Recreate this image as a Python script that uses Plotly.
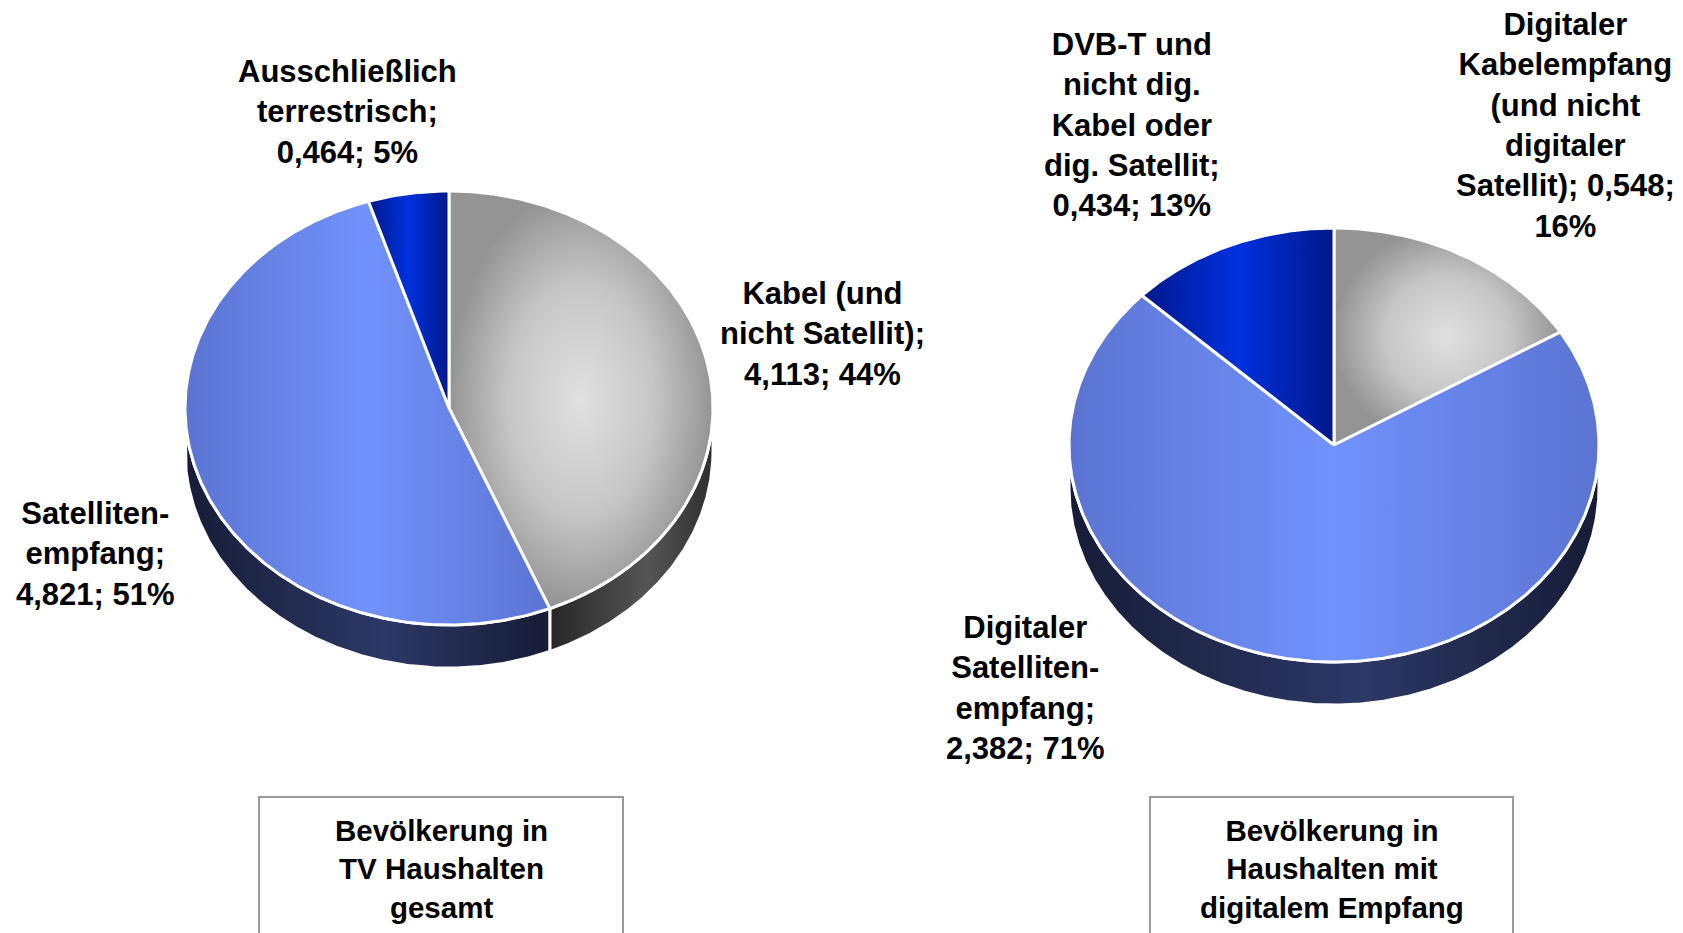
import numpy as np
import plotly.graph_objects as go

# ---------------- data ----------------
left_names = ["Kabel (und<br>nicht Satellit)", "Satelliten-<br>empfang", "Ausschließlich<br>terrestrisch"]
left_values = [4.113, 4.821, 0.464]
left_title = "Bevölkerung in<br>TV Haushalten<br>gesamt"

right_names = ["Digitaler<br>Kabelempfang<br>(und nicht<br>digitaler<br>Satellit)", "Digitaler<br>Satelliten-<br>empfang", "DVB-T und<br>nicht dig.<br>Kabel oder<br>dig. Satellit"]
right_values = [0.548, 2.382, 0.434]
right_title = "Bevölkerung in<br>Haushalten mit<br>digitalem Empfang"

# ---------------- styles ----------------
W, H = 1683, 933
TOP_STYLES = [
    dict(type="radial", colorscale=[[0, "#e0e0e0"], [0.55, "#c6c6c6"], [1, "#949494"]]),
    dict(type="horizontal", colorscale=[[0, "#5b74d2"], [0.5, "#7192fc"], [1, "#5b74d2"]]),
    dict(type="horizontal", colorscale=[[0, "#00188a"], [0.5, "#0031de"], [1, "#00188a"]]),
]
SIDE_STYLES = [
    dict(type="horizontal", colorscale=[[0, "#262626"], [0.6, "#555555"], [1, "#2e2e2e"]]),
    dict(type="horizontal", colorscale=[[0, "#171d38"], [0.55, "#2c3866"], [1, "#161c36"]]),
    dict(type="horizontal", colorscale=[[0, "#171d38"], [0.55, "#2c3866"], [1, "#161c36"]]),
]
FONT = dict(family="Liberation Sans, Arial", size=31, color="#000000", weight="bold")
TITLE_FONT = dict(family="Liberation Sans, Arial", size=29.5, color="#000000", weight="bold")


def fmt(v):
    return f"{v:.3f}".replace(".", ",")


def ell(cx, cy, rx, ry, th, dy=0.0):
    t = np.radians(th)
    return cx + rx * np.sin(t), cy - ry * np.cos(t) + dy


fig = go.Figure()


def add_pie(values, cx, cy, rx, ry, depth):
    total = sum(values)
    angles = np.concatenate([[0], np.cumsum(values) / total * 360.0])
    # side walls (front half only)
    for i in range(len(values)):
        a, b = max(angles[i], 90.0), min(angles[i + 1], 270.0)
        if b <= a:
            continue
        th = np.linspace(a, b, max(int(b - a) * 2, 4))
        xt, yt = ell(cx, cy, rx, ry, th)
        xb, yb = ell(cx, cy, rx, ry, th[::-1], depth)
        xs = np.concatenate([xt, xb, xt[:1]])
        ys = np.concatenate([yt, yb, yt[:1]])
        fig.add_trace(go.Scatter(x=xs, y=ys, mode="lines", fill="toself",
                                 fillgradient=SIDE_STYLES[i],
                                 line=dict(color="white", width=3),
                                 hoverinfo="skip", showlegend=False))
    # top slices
    for i in range(len(values)):
        a, b = angles[i], angles[i + 1]
        th = np.linspace(a, b, max(int(b - a) * 2, 4))
        xe, ye = ell(cx, cy, rx, ry, th)
        xs = np.concatenate([[cx], xe, [cx]])
        ys = np.concatenate([[cy], ye, [cy]])
        fig.add_trace(go.Scatter(x=xs, y=ys, mode="lines", fill="toself",
                                 fillgradient=TOP_STYLES[i],
                                 line=dict(color="white", width=3),
                                 hoverinfo="skip", showlegend=False))
    return total


# ---------------- pies ----------------
lt = add_pie(left_values, 449, 408, 264, 217, 43)
rt = add_pie(right_values, 1334, 445, 265, 217, 43)

left_pos = [(822, 334), (95, 554), (347, 112)]
right_pos = [(1565, 125), (1025, 688), (1132, 125)]
right_seps = ["; ", ";<br>", ";<br>"]

for name, v, (x, y) in zip(left_names, left_values, left_pos):
    txt = f"{name};<br>{fmt(v)}; {round(v / lt * 100)}%"
    fig.add_annotation(x=x, y=y, text=txt, showarrow=False, font=FONT,
                       align="center", xanchor="center", yanchor="middle")

for name, v, sep, (x, y) in zip(right_names, right_values, right_seps, right_pos):
    if sep == "; ":
        txt = f"{name}; {fmt(v)};<br>{round(v / rt * 100)}%"
    else:
        txt = f"{name};<br>{fmt(v)}; {round(v / rt * 100)}%"
    fig.add_annotation(x=x, y=y, text=txt, showarrow=False, font=FONT,
                       align="center", xanchor="center", yanchor="middle")

# ---------------- title boxes ----------------
for (x0, x1), title in [((259, 623), left_title), ((1150, 1513), right_title)]:
    fig.add_shape(type="rect", x0=x0, x1=x1, y0=797, y1=960,
                  line=dict(color="#9a9a9a", width=2), fillcolor="white", layer="below")
    fig.add_annotation(x=(x0 + x1) / 2, y=869, text=title, showarrow=False,
                       font=TITLE_FONT, align="center", xanchor="center", yanchor="middle")

fig.update_layout(
    width=W, height=H, margin=dict(l=0, r=0, t=0, b=0),
    paper_bgcolor="white", plot_bgcolor="white",
    xaxis=dict(range=[0, W], visible=False, fixedrange=True),
    yaxis=dict(range=[H, 0], visible=False, fixedrange=True),
    showlegend=False,
)

fig.write_html("out.html", config={"displayModeBar": False},
               post_script="document.body.style.margin='0';")
